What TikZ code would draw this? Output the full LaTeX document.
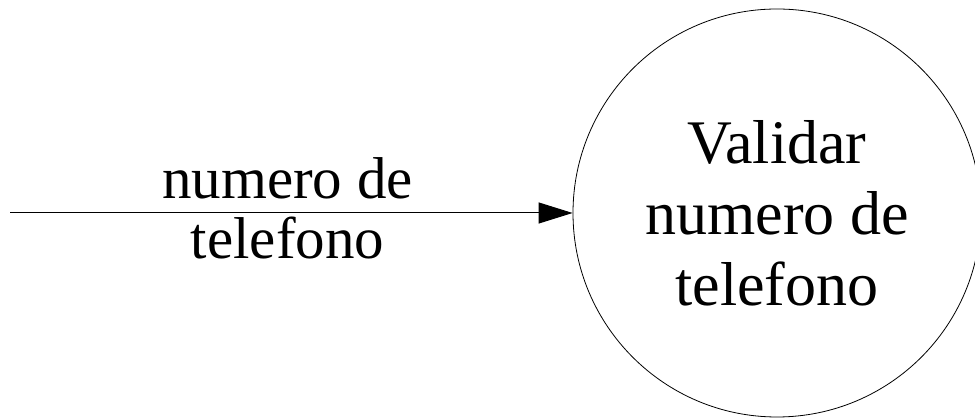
\documentclass[tikz,border=0pt]{standalone}
\usepackage{fontspec}
\setmainfont{Liberation Serif}
\usetikzlibrary{arrows.meta}
\tikzset{
  process/.style={draw, circle, minimum size=408pt, inner sep=0pt, line width=0.8pt, align=center, font=\fontsize{62}{71}\selectfont},
  flowlabel/.style={align=center, font=\fontsize{59}{60}\selectfont},
  flow/.style={line width=1pt, -{Triangle[length=34pt,width=21pt]}}
}
\begin{document}
\begin{tikzpicture}[x=1pt,y=1pt]
\useasboundingbox (0,0) rectangle (975,419);
\clip (0,0) rectangle (975,419);
\node[process] (p) at (777,206) {Validar\\numero de\\telefono};
\coordinate (s) at (10,206);
\draw[flow] (s) -- (p);
\node[flowlabel] (l) at (287.5,211) {numero de\\telefono};
\end{tikzpicture}
\end{document}
